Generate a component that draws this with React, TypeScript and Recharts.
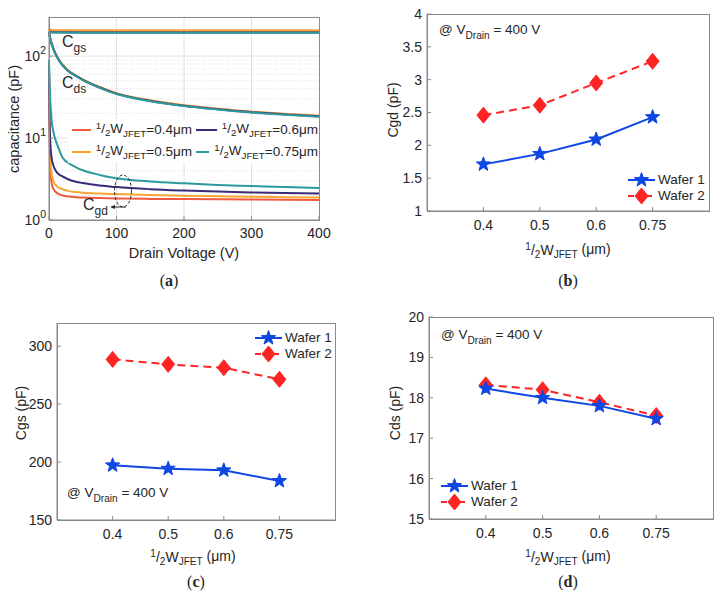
import React from 'react';
import { LineChart, Line, XAxis, YAxis, ReferenceLine } from 'recharts';

const FONT = '"Liberation Sans", Arial, Helvetica, sans-serif';
const SERIF = '"Liberation Serif", "DejaVu Serif", serif';
const INK = '#262626';
const FRAME = '#8a8a8a';

// ---- (a) capacitance vs drain voltage ----
const VOLTAGE = [0, 1, 2, 4, 6, 8, 10, 15, 20, 30, 40, 50, 75, 100, 150, 200, 250, 300, 350, 400];
const CGD_04 = [60, 9, 4.2, 2.8, 2.45, 2.3, 2.2, 2.06, 1.99, 1.93, 1.9, 1.88, 1.85, 1.83, 1.81, 1.8, 1.79, 1.78, 1.77, 1.76];
const CGD_05 = [70, 12, 5.5, 3.6, 3.05, 2.8, 2.65, 2.47, 2.37, 2.25, 2.19, 2.15, 2.1, 2.07, 2.02, 1.98, 1.95, 1.92, 1.9, 1.88];
const CGD_06 = [80, 14, 8.5, 5.6, 4.8, 4.3, 4.0, 3.6, 3.4, 3.1, 2.93, 2.82, 2.63, 2.52, 2.38, 2.29, 2.22, 2.17, 2.13, 2.1];
const CGD_075 = [90, 45, 28, 16, 12.5, 10.5, 9.3, 7.2, 5.8, 4.9, 4.4, 4.05, 3.55, 3.24, 2.95, 2.8, 2.68, 2.6, 2.52, 2.46];
const CDS_04 = [200, 178, 162, 142, 127, 115, 105, 89.5, 78.5, 65, 57.8, 51.8, 41.8, 35.1, 28.7, 25.0, 22.7, 20.9, 19.6, 18.6];
const CDS_05 = [200, 178, 163, 143, 128, 116, 106, 90, 79, 65.5, 58, 52, 42, 35.3, 28.9, 25.2, 22.8, 21, 19.7, 18.7];
const CDS_06 = [196, 176, 161, 141, 126, 114, 104.5, 88.5, 77.5, 64.5, 57.3, 51.3, 41.4, 34.8, 28.4, 24.8, 22.5, 20.7, 19.4, 18.4];
const CDS_075 = [195, 175, 160, 140, 125, 113, 104, 88, 77, 64, 57, 51, 41, 34.5, 28.2, 24.6, 22.3, 20.5, 19.2, 18.2];
const CGS_VOLTAGE = [0, 5, 50, 200, 400];
const CGS_04 = [212, 205, 204, 204, 204];
const CGS_05 = [218, 207, 206, 206, 206];
const CGS_06 = [200, 195, 194, 194, 194];
const CGS_075 = [198, 194, 193, 193, 193];

const WIDTH_LABELS = ['0.4', '0.5', '0.6', '0.75'];
const WIDTH_COLORS = ['#f0593f', '#f8a532', '#3a2a78', '#2a9a9f'];

// ---- (b)(c)(d) values at VDrain = 400 V ----
const CGD_WAFER1 = [1.71, 1.87, 2.09, 2.43];
const CGD_WAFER2 = [2.46, 2.61, 2.95, 3.28];
const CGS_WAFER1 = [197.2, 194.3, 192.9, 183.7];
const CGS_WAFER2 = [288.6, 284.3, 281.4, 271.4];
const CDS_WAFER1 = [18.23, 18.0, 17.8, 17.48];
const CDS_WAFER2 = [18.32, 18.2, 17.89, 17.56];

const BLUE = '#0f47e4';
const RED = '#ff2424';

const toRows = (xs: number[], ys: number[]) => xs.map((v, i) => ({ x: v, y: ys[i] }));
const idxRows = (ys: number[]) => ys.map((v, i) => ({ x: i, y: v }));

const Star = ({ cx, cy, color }: any) => {
  if (cx == null || cy == null) return null;
  const pts: string[] = [];
  for (let k = 0; k < 10; k++) {
    const r = k % 2 === 0 ? 7.5 : 3.1;
    const a = -Math.PI / 2 + (k * Math.PI) / 5;
    pts.push(`${cx + r * Math.cos(a)},${cy + r * Math.sin(a)}`);
  }
  return <polygon points={pts.join(' ')} fill={color} stroke={color} strokeWidth={1} />;
};

const Diamond = ({ cx, cy, color }: any) => {
  if (cx == null || cy == null) return null;
  return (
    <polygon
      points={`${cx},${cy - 8} ${cx + 6.5},${cy} ${cx},${cy + 8} ${cx - 6.5},${cy}`}
      fill={color}
      stroke={color}
    />
  );
};

const LogTick = ({ x, y, payload }: any) => {
  const exp = Math.round(Math.log10(payload.value));
  return (
    <text x={x} y={y + 5} textAnchor="end" fontFamily={FONT} fontSize={14} fill={INK}>
      10
      <tspan dy={-7} fontSize={10.5}>
        {exp}
      </tspan>
    </text>
  );
};

const W = () => (
  <span>
    <sup style={{ fontSize: '0.72em', verticalAlign: '0.45em' }}>1</sup>/
    <sub style={{ fontSize: '0.72em', verticalAlign: '-0.3em' }}>2</sub>W
    <sub style={{ fontSize: '0.72em', verticalAlign: '-0.35em' }}>JFET</sub>
  </span>
);

const Txt = ({ x, y, size = 13, center = false, rotate = false, family = FONT, children }: any) => (
  <div
    style={{
      position: 'absolute',
      left: x,
      top: y,
      transform: `${center || rotate ? 'translate(-50%, -50%)' : 'translateY(-50%)'}${rotate ? ' rotate(-90deg)' : ''}`,
      fontFamily: family,
      fontSize: size,
      color: INK,
      whiteSpace: 'nowrap',
      lineHeight: 1,
    }}
  >
    {children}
  </div>
);

const Vdrain = ({ x, y }: any) => (
  <Txt x={x} y={y} size={13.5}>
    @ V<sub style={{ fontSize: '0.75em', verticalAlign: '-0.45em' }}>Drain</sub> = 400 V
  </Txt>
);

const Caption = ({ x, y, letter }: any) => (
  <Txt x={x} y={y} size={16} center family={SERIF}>
    (<b>{letter}</b>)
  </Txt>
);

const YW = 40;
const XH = 30;

// chart placed in a box so that its plot area lands on the given rectangle; full axes box drawn on top
const Panel = ({ box, plot, children }: any) => {
  const margin = {
    left: plot.l - box.x - YW,
    top: plot.t - box.y,
    right: box.x + box.w - plot.r,
    bottom: box.y + box.h - plot.b - XH,
  };
  return (
    <div style={{ position: 'absolute', left: box.x, top: box.y }}>
      <LineChart width={box.w} height={box.h} margin={margin}>
        {children}
      </LineChart>
      <svg style={{ position: 'absolute', left: 0, top: 0, pointerEvents: 'none' }} width={box.w} height={box.h}>
        <rect
          x={plot.l - box.x + 0.5}
          y={plot.t - box.y + 0.5}
          width={plot.r - plot.l}
          height={plot.b - plot.t}
          fill="none"
          stroke={FRAME}
          strokeWidth={1}
        />
      </svg>
    </div>
  );
};

const tickStyle = { fontFamily: FONT, fontSize: 14, fill: INK };

const waferPanel = (
  box: any,
  plot: any,
  w1: number[],
  w2: number[],
  yDomain: number[],
  yTicks: number[]
) => (
  <Panel box={box} plot={plot}>
    <XAxis
      type="number"
      dataKey="x"
      domain={[-1, 4]}
      ticks={[0, 1, 2, 3]}
      interval={0}
      tickFormatter={(i: number) => WIDTH_LABELS[i]}
      height={XH}
      tickSize={-4}
      tickMargin={13}
      tick={tickStyle}
      stroke={FRAME}
      allowDuplicatedCategory={false}
    />
    <YAxis
      type="number"
      domain={yDomain}
      ticks={yTicks}
      interval={0}
      width={YW}
      tickSize={-4}
      tickMargin={9}
      tick={tickStyle}
      stroke={FRAME}
      allowDataOverflow
    />
    <Line
      data={idxRows(w2)}
      dataKey="y"
      stroke={RED}
      strokeWidth={2}
      strokeDasharray="8 5"
      isAnimationActive={false}
      dot={(p: any) => <Diamond key={`d${p.index}`} cx={p.cx} cy={p.cy} color={RED} />}
    />
    <Line
      data={idxRows(w1)}
      dataKey="y"
      stroke={BLUE}
      strokeWidth={2}
      isAnimationActive={false}
      dot={(p: any) => <Star key={`s${p.index}`} cx={p.cx} cy={p.cy} color={BLUE} />}
    />
  </Panel>
);

const WaferLegend = ({ x, y }: any) => (
  <div style={{ position: 'absolute', left: x, top: y, fontFamily: FONT, fontSize: 13.5, color: INK, lineHeight: '16px' }}>
    {[
      { name: 'Wafer 1', c: BLUE, star: true },
      { name: 'Wafer 2', c: RED, star: false },
    ].map((s) => (
      <div key={s.name} style={{ display: 'flex', alignItems: 'center', height: 16 }}>
        <svg width={27} height={16} style={{ marginRight: 3 }}>
          <line x1={0} y1={8} x2={27} y2={8} stroke={s.c} strokeWidth={2} strokeDasharray={s.star ? undefined : '6 3'} />
          {s.star ? <Star cx={13.5} cy={8} color={s.c} /> : <Diamond cx={13.5} cy={8} color={s.c} />}
        </svg>
        {s.name}
      </div>
    ))}
  </div>
);

const MINOR = [2, 3, 4, 5, 6, 7, 8, 9, 20, 30, 40, 50, 60, 70, 80, 90, 200, 300];

export default function App() {
  const cgd = [CGD_04, CGD_05, CGD_06, CGD_075];
  const cds = [CDS_04, CDS_05, CDS_06, CDS_075];
  const cgs = [CGS_04, CGS_05, CGS_06, CGS_075];

  return (
    <div style={{ position: 'absolute', left: 0, top: 0, width: 725, height: 608, background: '#fff', overflow: 'hidden' }}>
      {/* (a) */}
      <Panel box={{ x: 0, y: 0, w: 362, h: 300 }} plot={{ l: 49, t: 17, r: 319, b: 220 }}>
        <XAxis
          type="number"
          dataKey="x"
          domain={[0, 400]}
          ticks={[0, 100, 200, 300, 400]}
          interval={0}
          height={XH}
          tickSize={-4}
          tickMargin={12}
          tick={tickStyle}
          stroke={FRAME}
          allowDuplicatedCategory={false}
        />
        <YAxis
          type="number"
          scale="log"
          domain={[1, 300]}
          ticks={[1, 10, 100]}
          interval={0}
          width={YW}
          tickSize={-4}
          tickMargin={7}
          tick={<LogTick />}
          stroke={FRAME}
          allowDataOverflow
        />
        {MINOR.map((v) => (
          <ReferenceLine key={`m${v}`} y={v} stroke="#dcdcdc" strokeDasharray="1 2" strokeWidth={1} />
        ))}
        {[10, 100].map((v) => (
          <ReferenceLine key={`g${v}`} y={v} stroke="#e2e2e2" strokeWidth={1} />
        ))}
        {[100, 200, 300].map((v) => (
          <ReferenceLine key={`v${v}`} x={v} stroke="#e2e2e2" strokeWidth={1} />
        ))}
        {cgs.map((s, k) => (
          <Line key={`cgs${k}`} data={toRows(CGS_VOLTAGE, s)} dataKey="y" type="monotone" stroke={WIDTH_COLORS[k]} strokeWidth={2} dot={false} isAnimationActive={false} />
        ))}
        {cds.map((s, k) => (
          <Line key={`cds${k}`} data={toRows(VOLTAGE, s)} dataKey="y" type="monotone" stroke={WIDTH_COLORS[k]} strokeWidth={2} dot={false} isAnimationActive={false} />
        ))}
        {cgd.map((s, k) => (
          <Line key={`cgd${k}`} data={toRows(VOLTAGE, s)} dataKey="y" type="monotone" stroke={WIDTH_COLORS[k]} strokeWidth={2} dot={false} isAnimationActive={false} />
        ))}
      </Panel>
      {/* (a) legend */}
      <div
        style={{
          position: 'absolute',
          left: 68,
          top: 119,
          width: 250,
          height: 44,
          background: '#fff',
          fontFamily: FONT,
          fontSize: 13.5,
          color: INK,
          display: 'grid',
          gridTemplateColumns: '124px 126px',
          gridTemplateRows: '22px 22px',
          gridAutoFlow: 'column',
          alignItems: 'center',
          lineHeight: 1,
        }}
      >
        {WIDTH_LABELS.map((w, k) => (
          <div key={w} style={{ display: 'flex', alignItems: 'center', whiteSpace: 'nowrap' }}>
            <svg width={24} height={4} style={{ marginLeft: 4, marginRight: 5 }}>
              <line x1={0} y1={2} x2={24} y2={2} stroke={WIDTH_COLORS[k]} strokeWidth={2} />
            </svg>
            <W />={w}μm
          </div>
        ))}
      </div>
      <Txt x={62} y={44} size={16}>
        C<sub style={{ fontSize: '0.75em', verticalAlign: '-0.4em' }}>gs</sub>
      </Txt>
      <Txt x={62} y={85} size={16}>
        C<sub style={{ fontSize: '0.75em', verticalAlign: '-0.4em' }}>ds</sub>
      </Txt>
      <Txt x={83} y={207} size={16}>
        C<sub style={{ fontSize: '0.75em', verticalAlign: '-0.4em' }}>gd</sub>
      </Txt>
      <svg style={{ position: 'absolute', left: 0, top: 0 }} width={362} height={300}>
        <ellipse cx={123} cy={191} rx={8.5} ry={16} fill="none" stroke={INK} strokeDasharray="3 2" strokeWidth={1} />
        <line x1={126} y1={207} x2={113} y2={207} stroke={INK} strokeWidth={1} />
        <polygon points="110,207 115,205 115,209" fill={INK} />
      </svg>
      <Txt x={184} y={253} size={14.5} center>Drain Voltage (V)</Txt>
      <Txt x={14} y={119} size={14.5} rotate>capacitance (pF)</Txt>
      <Caption x={169} y={281} letter="a" />

      {/* (b) */}
      {waferPanel({ x: 362, y: 0, w: 363, h: 300 }, { l: 427, t: 14, r: 709, b: 211 }, CGD_WAFER1, CGD_WAFER2, [1, 4], [1, 1.5, 2, 2.5, 3, 3.5, 4])}
      <WaferLegend x={628} y={172} />
      <Vdrain x={439} y={32} />
      <Txt x={393} y={110} size={14} rotate>Cgd (pF)</Txt>
      <Txt x={568} y={251} size={14} center>
        <W /> (μm)
      </Txt>
      <Caption x={568} y={281} letter="b" />

      {/* (c) */}
      {waferPanel({ x: 0, y: 305, w: 362, h: 303 }, { l: 57, t: 323, r: 335, b: 520 }, CGS_WAFER1, CGS_WAFER2, [150, 320], [150, 200, 250, 300])}
      <WaferLegend x={255} y={330} />
      <Vdrain x={67} y={495} />
      <Txt x={21} y={413} size={14} rotate>Cgs (pF)</Txt>
      <Txt x={193} y={558} size={14} center>
        <W /> (μm)
      </Txt>
      <Caption x={196} y={582} letter="c" />

      {/* (d) */}
      {waferPanel({ x: 362, y: 305, w: 363, h: 303 }, { l: 429, t: 317, r: 713, b: 519 }, CDS_WAFER1, CDS_WAFER2, [15, 20], [15, 16, 17, 18, 19, 20])}
      <WaferLegend x={441} y={478} />
      <Vdrain x={441} y={337} />
      <Txt x={395} y={413} size={14} rotate>Cds (pF)</Txt>
      <Txt x={568} y={558} size={14} center>
        <W /> (μm)
      </Txt>
      <Caption x={568} y={582} letter="d" />
    </div>
  );
}
